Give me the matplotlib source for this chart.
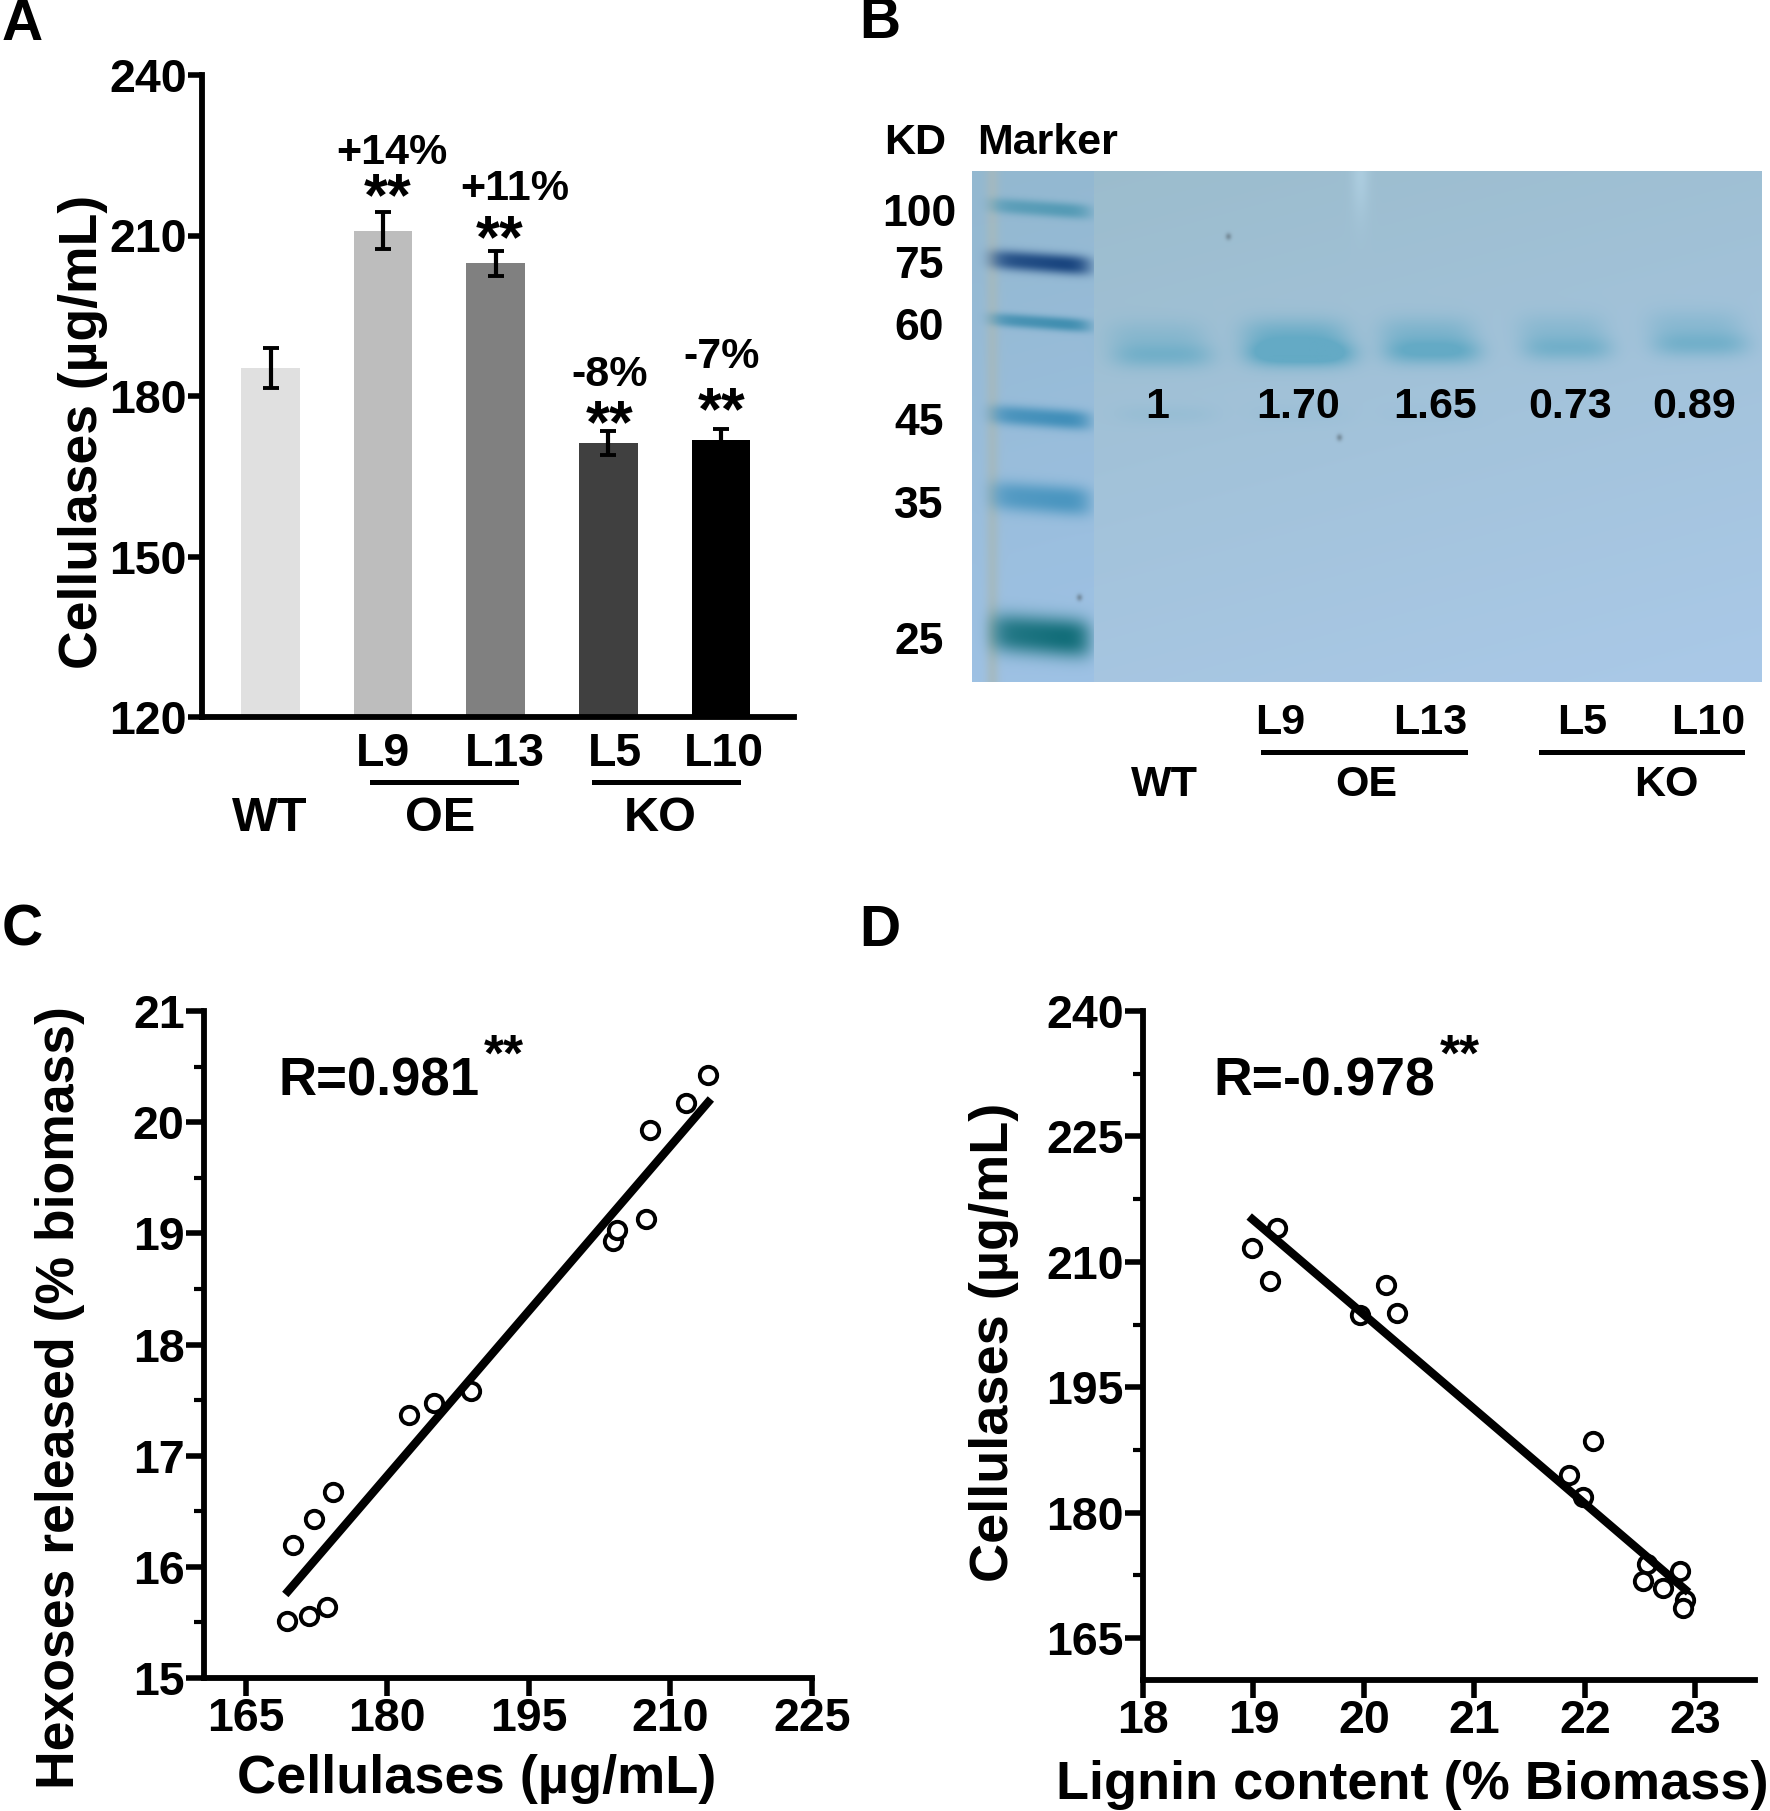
import numpy as np
import matplotlib
matplotlib.use('Agg')
import matplotlib.pyplot as plt

plt.rcParams['font.family'] = ['Liberation Sans', 'DejaVu Sans']
plt.rcParams['font.weight'] = 'bold'
plt.rcParams['axes.labelweight'] = 'bold'

W, H = 1770, 1811

# panel A
bar_labels = ['WT', 'L9', 'L13', 'L5', 'L10']
bar_values = [185.2, 210.9, 204.8, 171.2, 171.8]
bar_errors = [3.7, 3.4, 2.3, 2.2, 2.0]
bar_colors = ['#e0e0e0', '#bdbdbd', '#808080', '#404040', '#000000']
note_text = ['+14%', '+11%', '-8%', '-7%']
note_x = [392, 515, 610, 722]
note_y = [149, 186, 372, 354]
star_x = [388, 500, 610, 722]
star_y = [196, 238, 423, 410]

# panel B
marker_kd = ['100', '75', '60', '45', '35', '25']
marker_y = [208, 262, 322, 417, 498, 635]
marker_thick = [8, 10, 7, 10, 15, 20]
marker_strength = [0.85, 1.0, 0.9, 0.9, 0.85, 1.0]
marker_rgb = [(70, 148, 175), (18, 62, 122), (50, 135, 170), (50, 135, 180), (55, 140, 185), (10, 105, 115)]
kd_label_y = [211, 263, 325, 420, 503, 639]
lane_center = [1162, 1300, 1432, 1567, 1700]
lane_halfwidth = [50, 53, 48, 45, 48]
lane_y = [355, 353, 351, 348, 344]
lane_strength = [0.34, 0.72, 0.5, 0.34, 0.34]
lane_ratio = ['1', '1.70', '1.65', '0.73', '0.89']
ratio_x = [1157, 1298, 1435, 1570, 1694]
faint_x = [1165, 1300, 1430]
faint_s = [0.14, 0.08, 0.05]
speck_x = [1228, 1339, 1079]
speck_y = [236, 437, 597]

# panel C
c_x = [169.4, 171.75, 173.6, 170.06, 172.3, 174.3, 182.3, 185.0, 188.9, 203.9, 204.3, 207.4, 207.8, 211.7, 214.0]
c_y = [15.51, 15.56, 15.64, 16.2, 16.43, 16.67, 17.37, 17.47, 17.58, 18.93, 19.03, 19.13, 19.93, 20.17, 20.42]
c_fit_x = [169.5, 214.0]
c_fit_y = [15.78, 20.18]

# panel D
d_x = [18.99, 19.21, 19.15, 19.96, 20.2, 20.3, 22.07, 21.86, 21.98, 22.56, 22.53, 22.71, 22.86, 22.91, 22.89]
d_y = [211.6, 214.0, 207.7, 203.6, 207.2, 203.9, 188.6, 184.5, 181.9, 173.9, 171.85, 171.0, 173.0, 169.6, 168.6]
d_fit_x = [18.99, 22.91]
d_fit_y = [215.1, 170.8]


def px_axes(fig, left, top, right, bottom):
    return fig.add_axes([left/W, 1-bottom/H, (right-left)/W, (bottom-top)/H])


def style_axes(ax, lw=4.2):
    ax.spines['top'].set_visible(False)
    ax.spines['right'].set_visible(False)
    ax.spines['left'].set_linewidth(lw)
    ax.spines['bottom'].set_linewidth(lw)
    ax.patch.set_alpha(0)


fig = plt.figure(figsize=(W/100, H/100), dpi=100)

# overlay in picture pixels for the free labels
over = fig.add_axes([0, 0, 1, 1], zorder=5)
over.set_xlim(0, W)
over.set_ylim(H, 0)
over.axis('off')


def label(x, y, s, size=31, **kw):
    over.text(x, y+3.5, s, fontsize=size, ha=kw.pop('ha', 'center'), va='center', **kw)


#### A
ax = px_axes(fig, 202, 75, 794, 717)
style_axes(ax)
pos = np.arange(len(bar_values))
ax.bar(pos, bar_values, width=0.52, color=bar_colors)
ax.errorbar(pos, bar_values, yerr=bar_errors, fmt='none', ecolor='k', elinewidth=3, capsize=5.5, capthick=2.8)
ax.set_xlim(-0.61, 4.65)
ax.set_ylim(120, 240)
ax.set_yticks([120, 150, 180, 210, 240])
ax.set_xticks([])
ax.tick_params(axis='y', length=10, width=4, labelsize=33.5, pad=1)
ax.set_ylabel('Cellulases (µg/mL)', fontsize=38.5)
ax.yaxis.set_label_coords(-0.158, 0.444)
for s, x, y in zip(note_text, note_x, note_y):
    label(x, y, s, 31)
for x, y in zip(star_x, star_y):
    label(x, y, '**', 44)

label(383, 751, 'L9', 33.5)
label(505, 751, 'L13', 33.5)
label(615, 751, 'L5', 33.5)
label(724, 751, 'L10', 33.5)
label(270, 815, 'WT', 35)
label(440, 815, 'OE', 35)
label(660, 815, 'KO', 35)
over.plot([372, 516], [782, 782], color='k', lw=3.6)
over.plot([594, 738], [782, 782], color='k', lw=3.6)

#### B gel, drawn from the band lists
GX0, GX1, GY0, GY1 = 972, 1762, 171, 682
SPLIT = 1094
xx, yy = np.meshgrid(np.arange(GX0, GX1), np.arange(GY0, GY1))
u = (xx-GX0)/(GX1-GX0)
v = (yy-GY0)/(GY1-GY0)
gel = np.zeros(xx.shape+(3,))
top_col = np.array([155, 188, 204.])
bot_col = np.array([170, 201, 232.])
for c in range(3):
    gel[..., c] = top_col[c]+(bot_col[c]-top_col[c])*(0.7*v+0.3*u)
# marker lane is more saturated with a grey streak on the left
lane = xx < SPLIT
gel[lane] = gel[lane]+np.array([-8, -4, 4.])
streak = np.exp(-((xx-992)/7.0)**2)*lane
for c, d in zip(range(3), [165, 185, 190]):
    gel[..., c] = gel[..., c]*(1-0.8*streak)+d*0.8*streak
# light vertical streak high up on the L9 lane
glow = np.exp(-((xx-1360)/9.0)**2)*np.exp(-((yy-171)/45.0)**2)
gel += 14*glow[..., None]

for y0, s, t, rgb in zip(marker_y, marker_strength, marker_thick, marker_rgb):
    tilt = y0+(xx-1040)*0.07
    prof = np.exp(-np.abs((yy-tilt)/t)**2.5)*np.exp(-((xx-1040)/50.0)**6)*s
    prof = prof*(0.8+0.2*np.clip((xx-990)/100.0, 0, 1))
    prof = np.where(xx < SPLIT, prof, 0)
    for c in range(3):
        gel[..., c] = gel[..., c]*(1-prof)+rgb[c]*prof
band_col = np.array([100, 170, 197.])
for cx, hw, y0, s in zip(lane_center, lane_halfwidth, lane_y, lane_strength):
    prof = np.exp(-((yy-y0)/13.0)**2)*np.exp(-((xx-cx)/hw)**4)
    prof += 0.5*np.exp(-((yy-(y0-20))/16.0)**2)*np.exp(-((xx-cx+6)/hw)**4)
    prof = np.clip(prof*s*2.0, 0, 1)
    for c in range(3):
        gel[..., c] = gel[..., c]*(1-prof)+band_col[c]*prof
for cx, s in zip(faint_x, faint_s):
    prof = s*np.exp(-((yy-414)/10.0)**2)*np.exp(-((xx-cx)/50.0)**4)
    for c in range(3):
        gel[..., c] = gel[..., c]*(1-prof)+band_col[c]*prof
for sx, sy in zip(speck_x, speck_y):
    prof = 0.55*np.exp(-(((xx-sx)/3.0)**2+((yy-sy)/3.5)**2))
    for c, d in zip(range(3), [90, 105, 115]):
        gel[..., c] = gel[..., c]*(1-prof)+d*prof

gel_ax = px_axes(fig, GX0, GY0, GX1, GY1)
gel_ax.imshow(np.clip(gel, 0, 255).astype('uint8'), aspect='auto', interpolation='bilinear')
gel_ax.axis('off')

label(915, 140, 'KD', 31)
label(1048, 140, 'Marker', 31)
for s, y in zip(marker_kd, kd_label_y):
    label(919, y, s, 32)
for s, x in zip(lane_ratio, ratio_x):
    label(x, 404, s, 31)
label(1280, 720, 'L9', 31)
label(1430, 720, 'L13', 31)
label(1582, 720, 'L5', 31)
label(1708, 720, 'L10', 31)
label(1164, 782, 'WT', 31)
label(1366, 782, 'OE', 31)
label(1666, 782, 'KO', 31)
over.plot([1263, 1465], [752, 752], color='k', lw=3.6)
over.plot([1541, 1742], [752, 752], color='k', lw=3.6)

#### C
ax = px_axes(fig, 204, 1011, 812, 1678)
style_axes(ax)
ax.plot(c_x, c_y, 'o', mfc='w', mec='k', mew=2.8, ms=12.5, ls='none', zorder=3, clip_on=False)
ax.plot(c_fit_x, c_fit_y, color='k', lw=6, zorder=4)
ax.set_xlim(160.6, 225)
ax.set_ylim(15, 21)
ax.set_xticks([165, 180, 195, 210, 225])
ax.set_yticks([15, 16, 17, 18, 19, 20, 21])
ax.set_yticks(np.arange(15.5, 21, 1), minor=True)
ax.tick_params(axis='both', length=13, width=4, labelsize=33.5, pad=1)
ax.tick_params(axis='y', which='minor', length=7, width=3)
ax.set_ylabel('Hexoses released (% biomass)', fontsize=38.5)
ax.yaxis.set_label_coords(-0.196, 0.42)
label(477, 1775, 'Cellulases (µg/mL)', 39)
label(278, 1078, 'R=0.981', 38, ha='left')
label(484, 1054, '**', 37, ha='left')

#### D
ax = px_axes(fig, 1143, 1011, 1755, 1680)
style_axes(ax)
ax.plot(d_x, d_y, 'o', mfc='w', mec='k', mew=2.8, ms=12.5, ls='none', zorder=3, clip_on=False)
ax.plot(d_fit_x, d_fit_y, color='k', lw=6, zorder=4)
ax.set_xlim(18, 23.54)
ax.set_ylim(160, 240)
ax.set_xticks([18, 19, 20, 21, 22, 23])
ax.set_yticks([165, 180, 195, 210, 225, 240])
ax.set_yticks(np.arange(172.5, 240, 15), minor=True)
ax.tick_params(axis='both', length=13, width=4, labelsize=33.5, pad=1)
ax.tick_params(axis='y', which='minor', length=7, width=3)
ax.set_ylabel('Cellulases (µg/mL)', fontsize=39)
ax.yaxis.set_label_coords(-0.203, 0.505)
label(1412, 1781, 'Lignin content (% Biomass)', 39)
label(1213, 1078, 'R=-0.978', 38.5, ha='left')
label(1440, 1054, '**', 37, ha='left')

# panel letters
label(22, 22, 'A', 41)
label(880, 20, 'B', 41)
label(22, 927, 'C', 41)
label(880, 927, 'D', 41)

fig.savefig('out.png', dpi=100)
